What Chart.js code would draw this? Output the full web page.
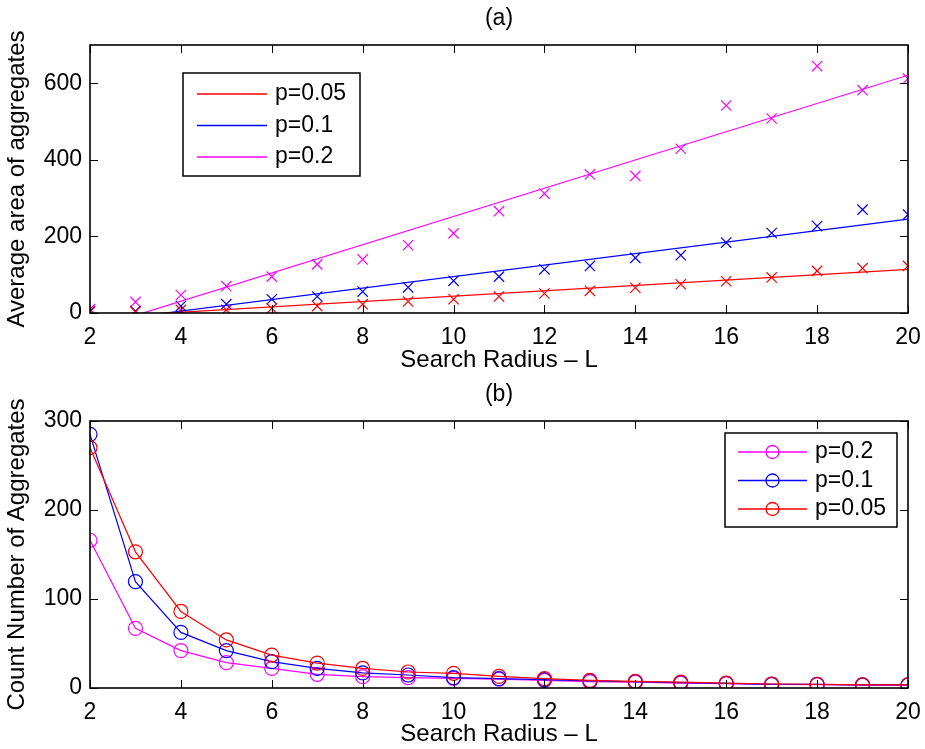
<!DOCTYPE html>
<html>
<head>
<meta charset="utf-8">
<script src="https://cdn.jsdelivr.net/npm/chart.js@4.4.1/dist/chart.umd.min.js"></script>
<style>
  html, body { margin: 0; padding: 0; background: #fff; }
  .box { position: relative; width: 925px; }
</style>
</head>
<body>
<div class="box" style="height:375px"><canvas id="chartA"></canvas></div>
<div class="box" style="height:374px"><canvas id="chartB"></canvas></div>
<script>
// search radius L
const radius = [2, 3, 4, 5, 6, 7, 8, 9, 10, 11, 12, 13, 14, 15, 16, 17, 18, 19, 20];

// (a) average area of aggregates
const areaP005 = [3, 3, 8, 8, 12, 18, 23, 30, 36, 43, 51, 58, 66, 75, 83, 93, 110, 117, 123];
const areaP01 = [5, 5, 18, 23, 36, 43, 56, 67, 84, 95, 114, 123, 144, 151, 184, 209, 227, 270, 257];
const areaP02 = [10, 29, 47, 70, 95, 127, 140, 177, 208, 266, 312, 362, 358, 429, 542, 508, 645, 582, 612];

// linear fits (end points)
const fitX = [2, 20];
const fitP005 = [-12, 114];
const fitP01 = [-25, 245];
const fitP02 = [-43, 621];

// (b) count number of aggregates
const countP02 = [166, 67, 42, 28.5, 22, 15.4, 12.7, 11.6, 10.9, 10, 8.5, 7, 6.5, 5.5, 5, 4, 3.8, 3.3, 3.2];
const countP01 = [285, 119.5, 62.5, 42, 29.6, 22, 17, 14.6, 11.6, 10.5, 9.5, 8, 7, 6, 5.2, 4.1, 4, 3.4, 3.4];
const countP005 = [270, 153, 86, 54, 37, 28, 22, 18, 16.5, 13, 10.5, 8.5, 7.5, 6.5, 5.5, 4.5, 4.2, 3.6, 3.5];

const xTicks = [2, 4, 6, 8, 10, 12, 14, 16, 18, 20];

const RED = '#ff0000', BLUE = '#0000ff', MAG = '#ff00ff';
const FONT = '"Liberation Sans", Arial, Helvetica, sans-serif';
const FS = 23;   // tick + legend text
const FT = 24;   // axis titles

const pts = (xs, ys) => xs.map((x, i) => ({x: x, y: ys[i]}));

// matlab style box: inward ticks on all four sides + title above
const frame = {
  id: 'frame',
  afterDatasetsDraw(chart, args, o) {
    const {ctx, chartArea: a, scales} = chart;
    const x = scales.x, y = scales.y;
    ctx.save();
    ctx.strokeStyle = '#000';
    ctx.lineWidth = 1;
    ctx.beginPath();
    x.ticks.forEach(t => {
      const px = Math.round(x.getPixelForValue(t.value)) + 0.5;
      ctx.moveTo(px, a.bottom); ctx.lineTo(px, a.bottom - 8);
      ctx.moveTo(px, a.top); ctx.lineTo(px, a.top + 8);
    });
    y.ticks.forEach(t => {
      const py = Math.round(y.getPixelForValue(t.value)) + 0.5;
      ctx.moveTo(a.left, py); ctx.lineTo(a.left + 8, py);
      ctx.moveTo(a.right, py); ctx.lineTo(a.right - 8, py);
    });
    ctx.stroke();
    ctx.lineWidth = 1.6;
    ctx.strokeRect(a.left, a.top, a.right - a.left, a.bottom - a.top);
    ctx.fillStyle = '#000';
    ctx.font = FS + 'px ' + FONT;
    ctx.textAlign = 'center';
    ctx.textBaseline = 'middle';
    ctx.fillText(o.title, (a.left + a.right) / 2, a.top - 26);
    ctx.restore();
  }
};

// boxed legend like matlab
const boxLegend = {
  id: 'boxLegend',
  afterDraw(chart, args, o) {
    const ctx = chart.ctx;
    ctx.save();
    ctx.fillStyle = '#fff';
    ctx.fillRect(o.left, o.top, o.width, o.height);
    ctx.strokeStyle = '#000';
    ctx.lineWidth = 1.5;
    ctx.strokeRect(o.left, o.top, o.width, o.height);
    ctx.font = FS + 'px ' + FONT;
    ctx.textAlign = 'left';
    ctx.textBaseline = 'middle';
    o.items.forEach((idx, i) => {
      const ds = chart.data.datasets[idx];
      const yy = o.firstRow + i * o.rowGap;
      ctx.beginPath();
      ctx.strokeStyle = ds.borderColor;
      ctx.lineWidth = 1.3;
      ctx.moveTo(o.lineStart, yy);
      ctx.lineTo(o.lineEnd, yy);
      ctx.stroke();
      if (o.marker) {
        ctx.beginPath();
        ctx.arc((o.lineStart + o.lineEnd) / 2, yy, o.marker, 0, Math.PI * 2);
        ctx.stroke();
      }
      ctx.fillStyle = '#000';
      ctx.fillText(ds.label, o.textX, yy);
    });
    ctx.restore();
  }
};

const axes = (yMax, yStep, yTitle, xHeight) => ({
  x: {
    type: 'linear', min: 2, max: 20,
    afterFit: s => { s.height = xHeight; },
    afterBuildTicks: s => { s.ticks = xTicks.map(v => ({value: v})); },
    grid: {display: false, drawTicks: true, tickLength: 11},
    border: {display: false},
    ticks: {color: '#000', padding: 0, font: {family: FONT, size: FS}, maxRotation: 0},
    title: {display: true, text: 'Search Radius – L', color: '#000', padding: {top: 0, bottom: 0}, font: {family: FONT, size: FT}}
  },
  y: {
    min: 0, max: yMax,
    afterFit: s => { s.width = 90; },
    grid: {display: false, drawTicks: false},
    border: {display: false},
    ticks: {color: '#000', padding: 8, stepSize: yStep, includeBounds: false, font: {family: FONT, size: FS}},
    title: {display: true, text: yTitle, color: '#000', padding: {top: 3, bottom: 0}, font: {family: FONT, size: FT}}
  }
});

const crossSet = (label, ys, color) => ({
  label: label, data: pts(radius, ys), showLine: false,
  pointStyle: 'crossRot', pointRadius: 7.3, pointBorderWidth: 1.2,
  borderColor: color, backgroundColor: color
});
const fitSet = (label, ys, color) => ({
  label: label, data: pts(fitX, ys), showLine: true, pointRadius: 0,
  borderColor: color, borderWidth: 1.2, backgroundColor: color
});

new Chart(document.getElementById('chartA'), {
  type: 'scatter',
  data: {
    datasets: [
      fitSet('p=0.05', fitP005, RED),
      fitSet('p=0.1', fitP01, BLUE),
      fitSet('p=0.2', fitP02, MAG),
      crossSet('p=0.05', areaP005, RED),
      crossSet('p=0.1', areaP01, BLUE),
      crossSet('p=0.2', areaP02, MAG)
    ]
  },
  options: {
    responsive: true, maintainAspectRatio: false, animation: false, devicePixelRatio: 1,
    layout: {padding: {left: 0, right: 17, top: 45, bottom: 0}},
    scales: axes(700, 200, 'Average area of aggregates', 62),
    plugins: {
      legend: {display: false}, tooltip: {enabled: false},
      frame: {title: '(a)'},
      boxLegend: {left: 183, top: 73, width: 177, height: 103, firstRow: 94, rowGap: 31.5,
                  lineStart: 197, lineEnd: 267, textX: 275, items: [0, 1, 2], marker: 0}
    }
  },
  plugins: [frame, boxLegend]
});

const circleSet = (label, ys, color, order) => ({
  label: label, data: pts(radius, ys), showLine: true, order: order,
  pointStyle: 'circle', pointRadius: 7, pointBorderWidth: 1.2,
  borderColor: color, borderWidth: 1.2, backgroundColor: 'rgba(0,0,0,0)', tension: 0
});

new Chart(document.getElementById('chartB'), {
  type: 'scatter',
  data: {
    datasets: [
      circleSet('p=0.2', countP02, MAG, 2),
      circleSet('p=0.1', countP01, BLUE, 1),
      circleSet('p=0.05', countP005, RED, 0)
    ]
  },
  options: {
    responsive: true, maintainAspectRatio: false, animation: false, devicePixelRatio: 1,
    layout: {padding: {left: 0, right: 17, top: 46, bottom: 0}},
    scales: axes(300, 100, 'Count Number of Aggregates', 61),
    plugins: {
      legend: {display: false}, tooltip: {enabled: false},
      frame: {title: '(b)'},
      boxLegend: {left: 725, top: 58, width: 172, height: 94, firstRow: 77, rowGap: 28.5,
                  lineStart: 738, lineEnd: 807, textX: 815, items: [0, 1, 2], marker: 6.5}
    }
  },
  plugins: [frame, boxLegend]
});
</script>
</body>
</html>
